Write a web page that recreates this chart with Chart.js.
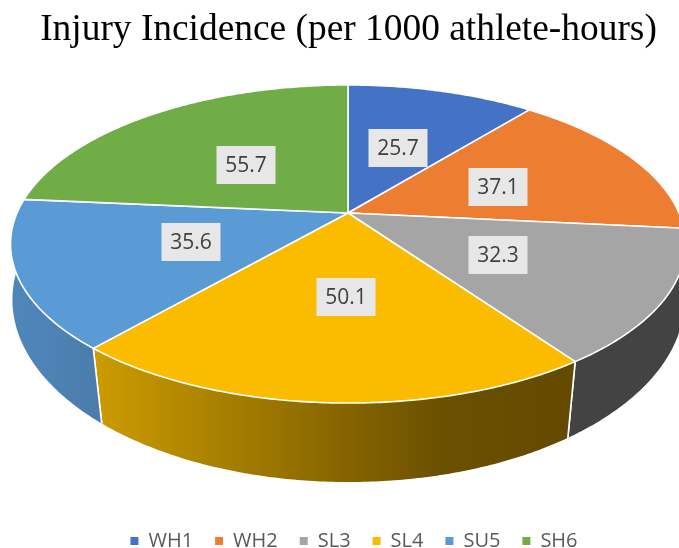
<!DOCTYPE html>
<html><head><meta charset="utf-8">
<style>html,body{margin:0;padding:0;background:#fff;overflow:hidden}canvas{display:block}</style>
<script src="https://cdn.jsdelivr.net/npm/chart.js@4"></script>
</head><body><canvas id="c" width="679" height="548"></canvas>
<script>
const categories = ['WH1','WH2','SL3','SL4','SU5','SH6'];
const incidence = [25.7,37.1,32.3,50.1,35.6,55.7];
const topColors = ['#4472C4','#ED7D31','#A5A5A5','#FBBC00','#5B9BD5','#70AD47'];
const sideStops = [
  [[0,'#2f5597'],[1,'#2f5597']],
  [[0,'#a85a20'],[1,'#a85a20']],
  [[0,'#434343'],[1,'#434343']],
  [[0,'#cc9c00'],[0.72,'#6b5000'],[1,'#634a00']],
  [[0,'#4f86ba'],[1,'#4a7cab']],
  [[0,'#4e7a32'],[1,'#4e7a32']]
];
const labelNudge = [[-1,1],[3,2],[0,2],[7,-1],[2,-1],[2,5]];
const TITLE = 'Injury Incidence (per 1000 athlete-hours)';
const topPlane = {cx:348, cy:213, a:331, b:153, p:0.195};
const basePlane = {cx:348.5, cy:271.4, a:332, b:178, p:0.155};
function project(pl, theta, r){
  const x = r*Math.sin(theta), y = r*Math.cos(theta), w = 1+pl.p*y;
  return [pl.cx+pl.a*x/w, pl.cy-pl.b*y/w];
}
function rimPath(ctx, pl, t0, t1, first){
  const n = Math.max(2, Math.ceil(Math.abs(t1-t0)/0.01));
  for(let i=0;i<=n;i++){
    const t=t0+(t1-t0)*i/n, q=project(pl,t,1);
    if(i===0&&first) ctx.moveTo(q[0],q[1]); else ctx.lineTo(q[0],q[1]);
  }
}
const pie3d = {
  id:'pie3d',
  afterLayout(chart){
    const l=chart.legend;
    l.left += 5.5; l.right += 5.5; l.top += 13; l.bottom += 13;
  },
  beforeDatasetDraw(){ return false; },
  afterDatasetsDraw(chart){
    const ctx = chart.ctx, arcs = chart.getDatasetMeta(0).data;
    const FR = 80*Math.PI/180, BK = 285*Math.PI/180;
    const angs = arcs.map(a=>[a.startAngle+Math.PI/2, a.endAngle+Math.PI/2]);
    ctx.save();
    ctx.lineJoin='round';
    // visible outer wall
    angs.forEach(([s,e],i)=>{
      const t0=Math.max(s,FR), t1=Math.min(e,BK);
      if(t1<=t0) return;
      const a0=project(topPlane,t0,1), a1=project(topPlane,t1,1);
      const b0=project(basePlane,t0,1), b1=project(basePlane,t1,1);
      const xs=[a0[0],a1[0],b0[0],b1[0]];
      const g2=ctx.createLinearGradient(Math.min(...xs),0,Math.max(...xs),0);
      sideStops[i].forEach(st=>g2.addColorStop(st[0],st[1]));
      ctx.beginPath();
      rimPath(ctx,topPlane,t0,t1,true);
      rimPath(ctx,basePlane,t1,t0,false);
      ctx.closePath();
      ctx.fillStyle=g2; ctx.fill();
      ctx.strokeStyle='#fff'; ctx.lineWidth=1.6;
      if(s>=FR){ctx.beginPath();ctx.moveTo(a0[0],a0[1]);ctx.lineTo(b0[0],b0[1]);ctx.stroke();}
      if(e<=BK){ctx.beginPath();ctx.moveTo(a1[0],a1[1]);ctx.lineTo(b1[0],b1[1]);ctx.stroke();}
    });
    // top face
    angs.forEach(([s,e],i)=>{
      ctx.beginPath();
      ctx.moveTo(topPlane.cx,topPlane.cy);
      rimPath(ctx,topPlane,s,e,false);
      ctx.closePath();
      ctx.fillStyle=topColors[i]; ctx.fill();
      ctx.strokeStyle='#fff'; ctx.lineWidth=1.6; ctx.stroke();
    });
    // value labels
    ctx.font='21px "Open Sans"';
    ctx.textAlign='center'; ctx.textBaseline='middle';
    angs.forEach(([s,e],i)=>{
      const q=project(topPlane,(s+e)/2,0.5);
      const x=Math.round(q[0]+labelNudge[i][0]), y=Math.round(q[1]+labelNudge[i][1]);
      ctx.fillStyle='#E7E7E7'; ctx.fillRect(x-29.5,y-19,59,38);
      ctx.fillStyle='#404040'; ctx.fillText(incidence[i].toFixed(1),x,y+1);
    });
    ctx.restore();
  }
};
new Chart(document.getElementById('c'),{
  type:'pie',
  data:{labels:categories,datasets:[{data:incidence,backgroundColor:topColors,borderWidth:0}]},
  options:{
    responsive:false,animation:false,
    layout:{padding:{left:18,top:0,bottom:0}},
    plugins:{
      title:{display:true,text:TITLE,color:'#000',font:{family:'"Liberation Serif"',size:37.4,weight:'normal'},padding:{top:8,bottom:10}},
      legend:{position:'bottom',labels:{boxWidth:8,boxHeight:8,padding:22,color:'#595959',font:{family:'"Open Sans"',size:20}}},
      tooltip:{enabled:false}
    }
  },
  plugins:[pie3d]
});
</script></body></html>
